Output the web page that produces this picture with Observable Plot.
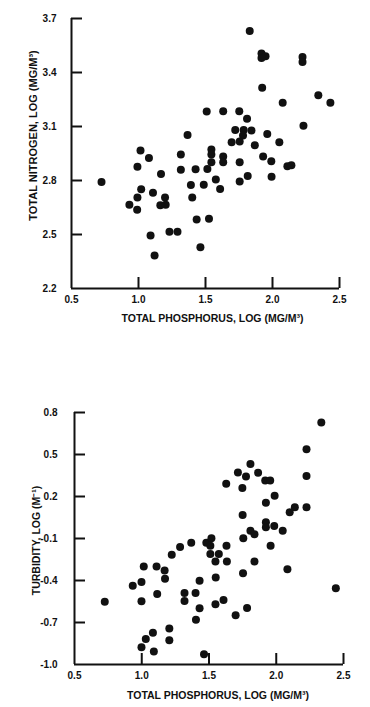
<!DOCTYPE html>
<html><head><meta charset="utf-8">
<script src="https://cdn.jsdelivr.net/npm/d3@7"></script>
<script src="https://cdn.jsdelivr.net/npm/@observablehq/plot@0.6"></script>
<style>
body{margin:0;background:#fff;}
#top,#bottom{position:absolute;left:0;}
#top{top:0}
#bottom{top:390px}
</style></head><body>
<div id="top"></div><div id="bottom"></div>
<script>
// Top panel: total phosphorus vs total nitrogen (log)
const topPhosphorus = [1.83,1.918,1.948,1.918,2.224,2.224,1.923,2.342,2.432,2.076,1.509,1.632,1.752,1.810,2.231,1.366,1.722,1.785,1.843,1.780,1.961,1.695,1.755,1.868,2.051,1.015,1.078,1.316,1.544,1.544,1.632,1.544,1.632,1.755,1.930,1.991,2.111,2.141,0.992,1.168,1.316,1.426,1.514,1.815,1.993,0.724,1.755,1.391,1.487,1.577,1.609,1.020,1.108,0.992,1.198,1.401,0.932,1.163,1.203,0.990,1.434,1.526,1.231,1.291,1.090,1.462,1.120];
const topNitrogen = [3.63,3.505,3.49,3.48,3.486,3.458,3.315,3.273,3.232,3.232,3.184,3.185,3.185,3.143,3.104,3.053,3.081,3.081,3.078,3.050,3.059,3.013,3.016,2.996,3.013,2.966,2.925,2.945,2.972,2.944,2.933,2.901,2.901,2.901,2.933,2.907,2.879,2.885,2.877,2.836,2.860,2.862,2.864,2.825,2.821,2.792,2.795,2.775,2.777,2.805,2.753,2.751,2.732,2.706,2.706,2.706,2.665,2.663,2.665,2.637,2.584,2.587,2.515,2.515,2.494,2.429,2.383];

// Bottom panel: total phosphorus vs turbidity (log)
const bottomPhosphorus = [2.335,2.225,2.225,2.225,1.808,1.715,1.775,1.865,1.628,1.748,1.918,1.955,1.988,1.923,2.100,2.138,1.750,1.923,1.923,1.985,2.048,1.808,1.838,1.755,1.958,1.368,1.285,1.223,1.480,1.518,1.510,1.510,1.573,1.630,1.548,1.633,1.838,2.083,1.753,1.015,1.110,1.170,1.173,1.550,1.430,0.998,0.933,1.318,1.400,1.115,2.443,0.725,0.998,1.318,1.608,1.548,1.430,1.783,1.698,1.403,1.205,1.083,1.030,1.205,0.998,1.090,1.463];
const bottomTurbidity = [0.728,0.537,0.346,0.123,0.432,0.372,0.343,0.370,0.291,0.260,0.315,0.315,0.205,0.155,0.088,0.123,0.068,0.016,-0.020,-0.010,-0.044,-0.044,-0.070,-0.099,-0.151,-0.130,-0.161,-0.216,-0.130,-0.099,-0.151,-0.211,-0.211,-0.151,-0.264,-0.264,-0.264,-0.319,-0.348,-0.300,-0.300,-0.328,-0.388,-0.379,-0.402,-0.410,-0.438,-0.489,-0.489,-0.496,-0.455,-0.551,-0.548,-0.546,-0.539,-0.570,-0.598,-0.596,-0.649,-0.680,-0.742,-0.773,-0.818,-0.826,-0.876,-0.907,-0.926];

const xTickLabels = [0.5, 1.0, 1.5, 2.0, 2.5];
const xTickMarks = [1.0, 1.5, 2.0, 2.5];
const topYTickLabels = [2.2, 2.5, 2.8, 3.1, 3.4, 3.7];
const topYTickMarks = [2.5, 2.8, 3.1, 3.4, 3.7];
const bottomYTickLabels = [-1.0, -0.7, -0.4, -0.1, 0.2, 0.5, 0.8];
const bottomYTickMarks = [-0.7, -0.4, -0.1, 0.2, 0.5, 0.8];

const xTitle = "TOTAL PHOSPHORUS, LOG (MG/M\u00B3)";
const topYTitle = "TOTAL NITROGEN, LOG (MG/M\u00B3)";
const bottomYTitle = "TURBIDITY, LOG (M\u207B\u00B9)";

function panel({xs, ys, xDomain, yDomain, yLabels, yMarks, yTitle, width, height, ml, mr, mt, mb, yTitleDx, yTitleDy, yTitleSize, xTitleDx, xTitleDy, yPad}) {
  const data = xs.map((x, i) => ({x, y: ys[i]}));
  const plotW = width - ml - mr, plotH = height - mt - mb;
  const fmt = d => d.toFixed(1);
  return Plot.plot({
    width, height, marginLeft: ml, marginRight: mr, marginTop: mt, marginBottom: mb,
    style: {fontFamily: "'Liberation Sans', Arial, sans-serif", fontSize: "10px", fontWeight: "bold", color: "#111", background: "#fff"},
    x: {domain: xDomain, ticks: xTickLabels, tickSize: 0, tickPadding: 7, tickFormat: fmt, label: null},
    y: {domain: yDomain, ticks: yLabels, tickSize: 0, tickPadding: yPad, tickFormat: fmt, label: null},
    marks: [
      Plot.ruleX([xDomain[0]], {stroke: "#111", strokeWidth: 2}),
      Plot.ruleY([yDomain[0]], {stroke: "#111", strokeWidth: 2}),
      Plot.tickX(xTickMarks, {x: d => d, insetTop: plotH - 11, stroke: "#111", strokeWidth: 2}),
      Plot.tickY(yMarks, {y: d => d, insetRight: plotW - 11, stroke: "#111", strokeWidth: 2}),
      Plot.dot(data, {x: "x", y: "y", r: 4, fill: "#111", stroke: null}),
      Plot.text([yTitle], {text: d => d, frameAnchor: "left", textAnchor: "middle", lineAnchor: "middle", rotate: -90, dx: yTitleDx, dy: yTitleDy, fontSize: yTitleSize, fill: "#111"}),
      Plot.text([xTitle], {text: d => d, frameAnchor: "bottom", textAnchor: "middle", lineAnchor: "middle", dx: xTitleDx, dy: xTitleDy, fontSize: 10.5, fill: "#111"})
    ]
  });
}

document.getElementById("top").appendChild(panel({
  xs: topPhosphorus, ys: topNitrogen, xDomain: [0.5, 2.5], yDomain: [2.2, 3.7],
  yLabels: topYTickLabels, yMarks: topYTickMarks, yTitle: topYTitle,
  width: 370, height: 330, ml: 71, mr: 31, mt: 18, mb: 42,
  yTitleDx: -38, yTitleDy: -18, yTitleSize: 11, xTitleDx: 7, xTitleDy: 30, yPad: 15
}));
document.getElementById("bottom").appendChild(panel({
  xs: bottomPhosphorus, ys: bottomTurbidity, xDomain: [0.5, 2.5], yDomain: [-1.0, 0.8],
  yLabels: bottomYTickLabels, yMarks: bottomYTickMarks, yTitle: bottomYTitle,
  width: 370, height: 317, ml: 74, mr: 27, mt: 22, mb: 43,
  yTitleDx: -38, yTitleDy: 2, yTitleSize: 10.5, xTitleDx: 9, xTitleDy: 31, yPad: 17
}));
</script>
</body></html>
